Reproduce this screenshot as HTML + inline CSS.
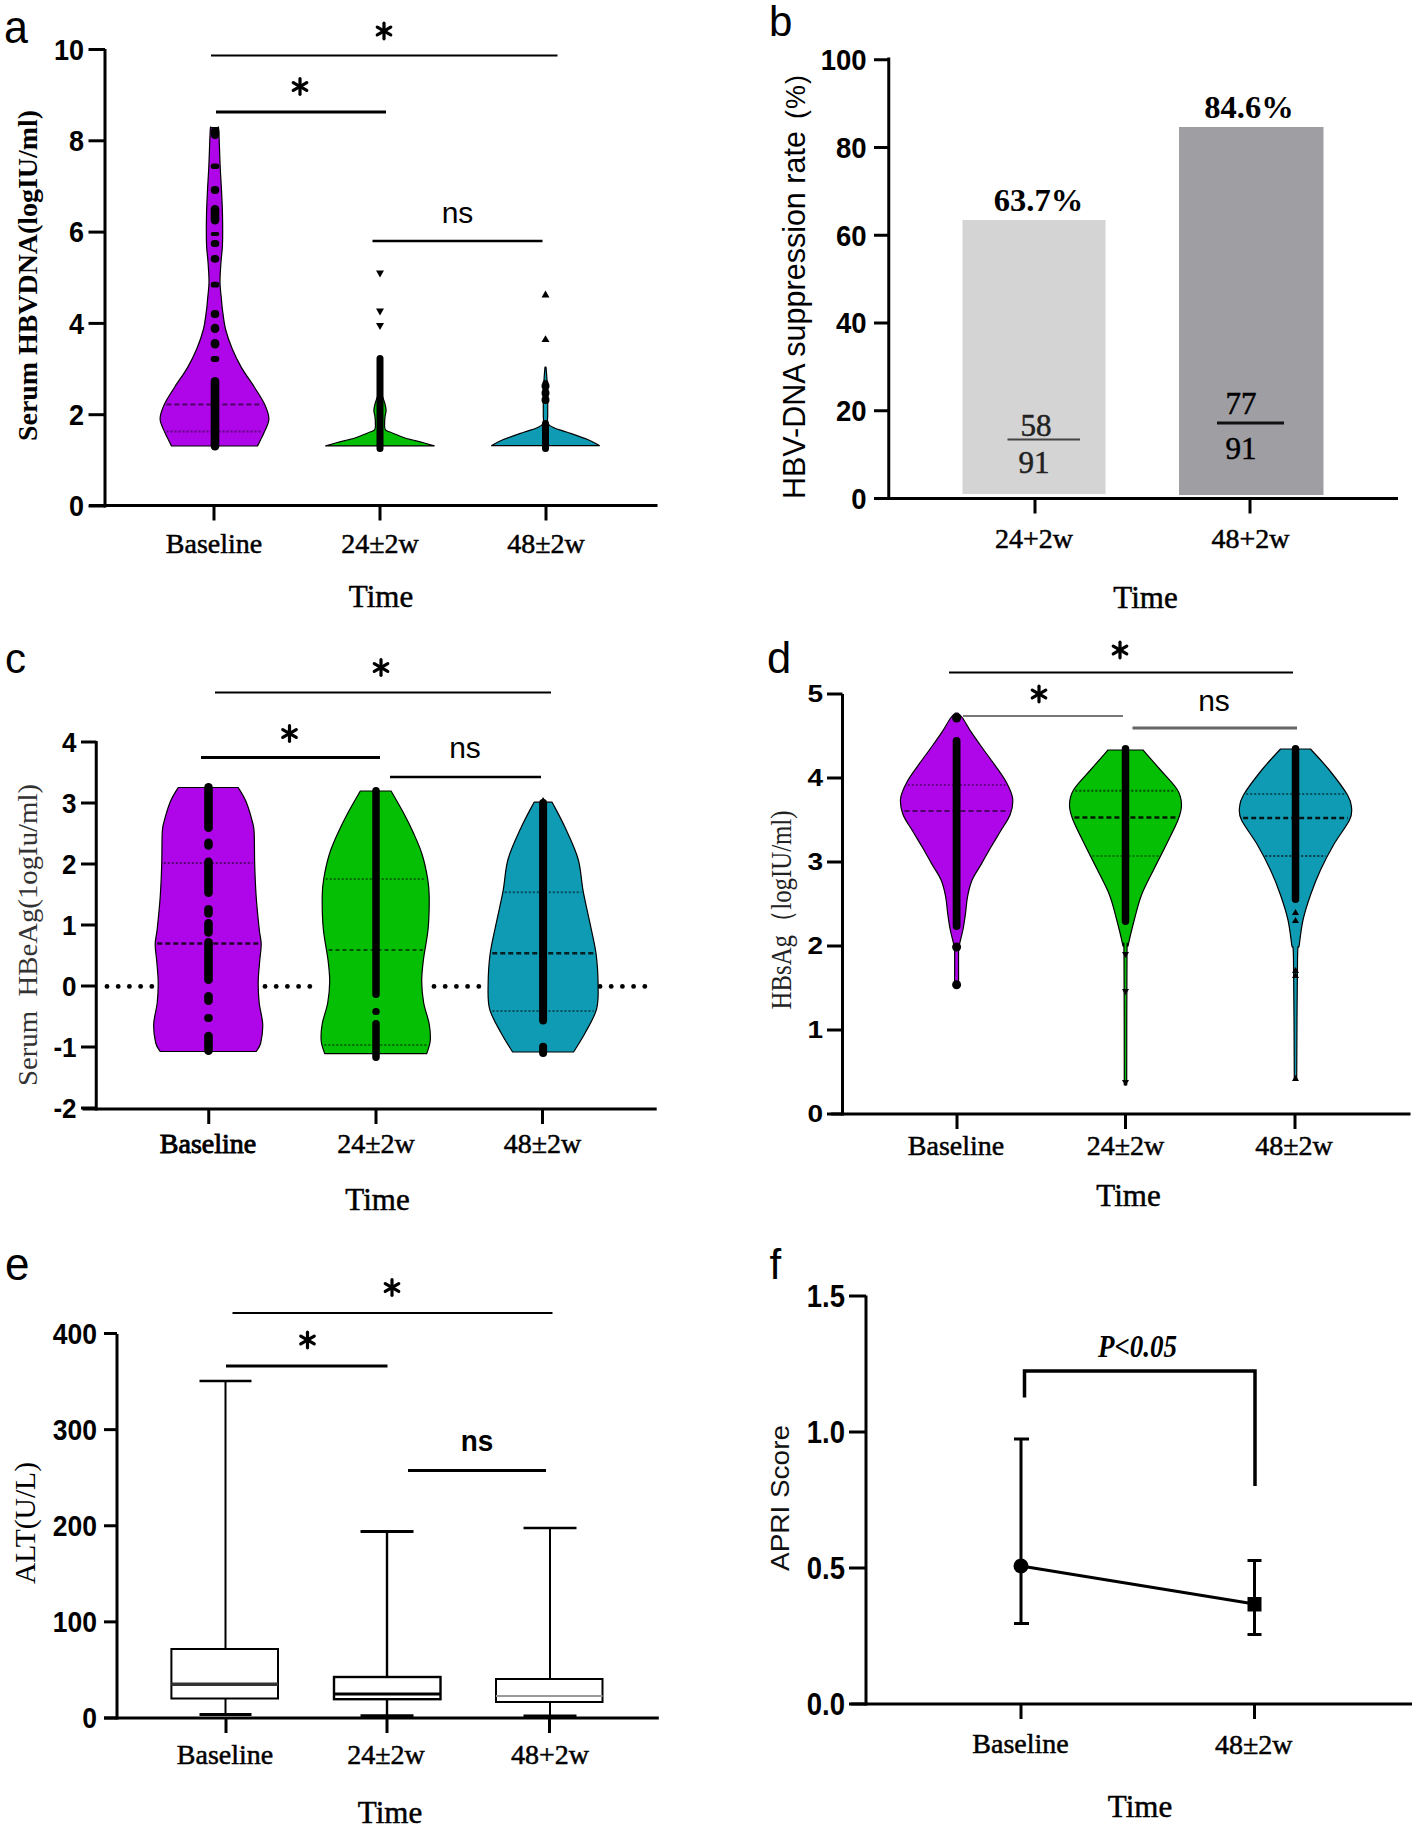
<!DOCTYPE html>
<html><head><meta charset="utf-8"><style>
html,body{margin:0;padding:0;background:#fff;width:1417px;height:1833px;overflow:hidden}
svg{display:block}
</style></head><body>
<svg width="1417" height="1833" viewBox="0 0 1417 1833">
<rect width="1417" height="1833" fill="#fff"/>
<text x="0" y="0" transform="translate(4.00,42.50) scale(1,1.08)" font-family='"Liberation Sans", sans-serif' font-size="43" font-weight="normal" font-style="normal" text-anchor="start" fill="#000" >a</text>
<line x1="105.00" y1="49.00" x2="105.00" y2="507.50" stroke="#000" stroke-width="3" />
<line x1="88.50" y1="506.00" x2="105.00" y2="506.00" stroke="#000" stroke-width="3" />
<text x="0" y="0" transform="translate(84.00,516.25) scale(1,1.06)" font-family='"Liberation Sans", sans-serif' font-size="27" font-weight="bold" font-style="normal" text-anchor="end" fill="#000" >0</text>
<line x1="88.50" y1="414.70" x2="105.00" y2="414.70" stroke="#000" stroke-width="3" />
<text x="0" y="0" transform="translate(84.00,424.95) scale(1,1.06)" font-family='"Liberation Sans", sans-serif' font-size="27" font-weight="bold" font-style="normal" text-anchor="end" fill="#000" >2</text>
<line x1="88.50" y1="323.40" x2="105.00" y2="323.40" stroke="#000" stroke-width="3" />
<text x="0" y="0" transform="translate(84.00,333.65) scale(1,1.06)" font-family='"Liberation Sans", sans-serif' font-size="27" font-weight="bold" font-style="normal" text-anchor="end" fill="#000" >4</text>
<line x1="88.50" y1="232.10" x2="105.00" y2="232.10" stroke="#000" stroke-width="3" />
<text x="0" y="0" transform="translate(84.00,242.35) scale(1,1.06)" font-family='"Liberation Sans", sans-serif' font-size="27" font-weight="bold" font-style="normal" text-anchor="end" fill="#000" >6</text>
<line x1="88.50" y1="140.80" x2="105.00" y2="140.80" stroke="#000" stroke-width="3" />
<text x="0" y="0" transform="translate(84.00,151.05) scale(1,1.06)" font-family='"Liberation Sans", sans-serif' font-size="27" font-weight="bold" font-style="normal" text-anchor="end" fill="#000" >8</text>
<line x1="88.50" y1="49.50" x2="105.00" y2="49.50" stroke="#000" stroke-width="3" />
<text x="0" y="0" transform="translate(84.00,59.75) scale(1,1.06)" font-family='"Liberation Sans", sans-serif' font-size="27" font-weight="bold" font-style="normal" text-anchor="end" fill="#000" >10</text>
<line x1="89.00" y1="505.50" x2="657.50" y2="505.50" stroke="#000" stroke-width="3" />
<line x1="214.00" y1="505.50" x2="214.00" y2="520.50" stroke="#000" stroke-width="3" />
<line x1="380.00" y1="505.50" x2="380.00" y2="520.50" stroke="#000" stroke-width="3" />
<line x1="546.00" y1="505.50" x2="546.00" y2="520.50" stroke="#000" stroke-width="3" />
<text x="214.00" y="552.50" font-family='"Liberation Serif", serif' font-size="28" font-weight="normal" font-style="normal" text-anchor="middle" fill="#000"  stroke="#000" stroke-width="0.5">Baseline</text>
<text x="380.00" y="552.50" font-family='"Liberation Serif", serif' font-size="28" font-weight="normal" font-style="normal" text-anchor="middle" fill="#000"  stroke="#000" stroke-width="0.5">24±2w</text>
<text x="546.00" y="552.50" font-family='"Liberation Serif", serif' font-size="28" font-weight="normal" font-style="normal" text-anchor="middle" fill="#000"  stroke="#000" stroke-width="0.5">48±2w</text>
<text x="381.00" y="607.00" font-family='"Liberation Serif", serif' font-size="31" font-weight="normal" font-style="normal" text-anchor="middle" fill="#000"  stroke="#000" stroke-width="0.5">Time</text>
<text x="0" y="0" transform="translate(37.00,441.00) rotate(-90)" font-family='"Liberation Serif", serif' font-size="28" font-weight="bold" text-anchor="start" fill="#000" textLength="331" lengthAdjust="spacingAndGlyphs">Serum HBVDNA(logIU/ml)</text>
<path d="M 218.00,127.50 C 218.13,128.08 218.43,124.42 218.80,131.00 C 219.17,137.58 219.75,157.17 220.20,167.00 C 220.65,176.83 221.12,182.00 221.50,190.00 C 221.88,198.00 222.33,206.00 222.50,215.00 C 222.67,224.00 222.75,236.17 222.50,244.00 C 222.25,251.83 221.42,255.67 221.00,262.00 C 220.58,268.33 219.92,275.67 220.00,282.00 C 220.08,288.33 221.08,295.33 221.50,300.00 C 221.92,304.67 221.83,305.17 222.50,310.00 C 223.17,314.83 223.90,322.58 225.50,329.00 C 227.10,335.42 229.43,342.07 232.10,348.50 C 234.77,354.93 237.83,361.23 241.50,367.60 C 245.17,373.97 250.27,380.63 254.10,386.70 C 257.93,392.77 262.03,398.62 264.50,404.00 C 266.97,409.38 268.97,414.25 268.90,419.00 C 268.83,423.75 265.50,429.00 264.10,432.50 C 262.70,436.00 261.60,437.75 260.50,440.00 C 259.40,442.25 258.00,445.00 257.50,446.00 L 171.50,446.00 C 171.00,445.00 169.60,442.25 168.50,440.00 C 167.40,437.75 166.30,436.00 164.90,432.50 C 163.50,429.00 160.17,423.75 160.10,419.00 C 160.03,414.25 162.03,409.38 164.50,404.00 C 166.97,398.62 171.07,392.77 174.90,386.70 C 178.73,380.63 183.83,373.97 187.50,367.60 C 191.17,361.23 194.23,354.93 196.90,348.50 C 199.57,342.07 201.90,335.42 203.50,329.00 C 205.10,322.58 205.83,314.83 206.50,310.00 C 207.17,305.17 207.08,304.67 207.50,300.00 C 207.92,295.33 208.92,288.33 209.00,282.00 C 209.08,275.67 208.42,268.33 208.00,262.00 C 207.58,255.67 206.75,251.83 206.50,244.00 C 206.25,236.17 206.33,224.00 206.50,215.00 C 206.67,206.00 207.12,198.00 207.50,190.00 C 207.88,182.00 208.35,176.83 208.80,167.00 C 209.25,157.17 209.83,137.58 210.20,131.00 C 210.57,124.42 210.87,128.08 211.00,127.50 Z" fill="#ae06e8" stroke="#000" stroke-width="1.2" stroke-linejoin="round"/>
<line x1="166.35" y1="404.50" x2="262.65" y2="404.50" stroke="#000" stroke-width="2" stroke-dasharray="5,3" opacity="0.55"/>
<line x1="166.54" y1="431.50" x2="262.46" y2="431.50" stroke="#000" stroke-width="2" stroke-dasharray="2,2" opacity="0.45"/>
<rect x="210.70" y="127.00" width="8.6" height="12.00" fill="#000" rx="4.30"/>
<rect x="210.70" y="163.40" width="8.6" height="5.60" fill="#000" rx="2.80"/>
<rect x="210.70" y="186.00" width="8.6" height="8.00" fill="#000" rx="4.00"/>
<rect x="210.70" y="205.00" width="8.6" height="19.50" fill="#000" rx="4.30"/>
<rect x="210.70" y="232.00" width="8.6" height="4.00" fill="#000" rx="2.00"/>
<rect x="210.70" y="240.00" width="8.6" height="7.00" fill="#000" rx="3.50"/>
<rect x="210.70" y="255.00" width="8.6" height="7.70" fill="#000" rx="3.85"/>
<rect x="210.70" y="281.80" width="8.6" height="5.70" fill="#000" rx="2.85"/>
<rect x="210.70" y="310.00" width="8.6" height="8.00" fill="#000" rx="4.00"/>
<rect x="210.70" y="323.70" width="8.6" height="9.30" fill="#000" rx="4.30"/>
<rect x="210.70" y="339.00" width="8.6" height="9.50" fill="#000" rx="4.30"/>
<rect x="210.70" y="356.00" width="8.6" height="6.00" fill="#000" rx="3.00"/>
<rect x="210.70" y="377.00" width="8.6" height="73.60" fill="#000" rx="4.30"/>
<path d="M 381.00,392.00 C 381.33,393.00 382.33,396.00 383.00,398.00 C 383.67,400.00 384.48,401.92 385.00,404.00 C 385.52,406.08 386.10,408.33 386.10,410.50 C 386.10,412.67 385.25,414.75 385.00,417.00 C 384.75,419.25 384.52,421.87 384.60,424.00 C 384.68,426.13 384.10,428.27 385.50,429.80 C 386.90,431.33 389.62,431.78 393.00,433.20 C 396.38,434.62 400.85,436.75 405.80,438.30 C 410.75,439.85 417.95,441.23 422.70,442.50 C 427.45,443.77 432.37,445.33 434.30,445.90 L 325.70,445.90 C 327.63,445.33 332.55,443.77 337.30,442.50 C 342.05,441.23 349.25,439.85 354.20,438.30 C 359.15,436.75 363.62,434.62 367.00,433.20 C 370.38,431.78 373.10,431.33 374.50,429.80 C 375.90,428.27 375.32,426.13 375.40,424.00 C 375.48,421.87 375.25,419.25 375.00,417.00 C 374.75,414.75 373.90,412.67 373.90,410.50 C 373.90,408.33 374.48,406.08 375.00,404.00 C 375.52,401.92 376.33,400.00 377.00,398.00 C 377.67,396.00 378.67,393.00 379.00,392.00 Z" fill="#04bf04" stroke="#000" stroke-width="1.2" stroke-linejoin="round"/>
<rect x="376.50" y="355.00" width="7" height="97.00" fill="#000" rx="3.5"/>
<path d="M 376.00,270.60 L 384.00,270.60 L 380.00,277.40 Z" fill="#000"/>
<path d="M 376.00,308.60 L 384.00,308.60 L 380.00,315.40 Z" fill="#000"/>
<path d="M 376.00,323.10 L 384.00,323.10 L 380.00,329.90 Z" fill="#000"/>
<path d="M 546.00,367.00 C 546.17,369.17 546.72,374.50 547.00,380.00 C 547.28,385.50 547.58,394.17 547.70,400.00 C 547.82,405.83 547.65,411.05 547.70,415.00 C 547.75,418.95 546.88,421.53 548.00,423.70 C 549.12,425.87 551.20,426.58 554.40,428.00 C 557.60,429.42 561.57,430.23 567.20,432.20 C 572.83,434.17 582.82,437.55 588.20,439.80 C 593.58,442.05 597.62,444.72 599.50,445.70 L 491.50,445.70 C 493.38,444.72 497.42,442.05 502.80,439.80 C 508.18,437.55 518.17,434.17 523.80,432.20 C 529.43,430.23 533.40,429.42 536.60,428.00 C 539.80,426.58 541.88,425.87 543.00,423.70 C 544.12,421.53 543.25,418.95 543.30,415.00 C 543.35,411.05 543.18,405.83 543.30,400.00 C 543.42,394.17 543.72,385.50 544.00,380.00 C 544.28,374.50 544.83,369.17 545.00,367.00 Z" fill="#109bb4" stroke="#000" stroke-width="1.2" stroke-linejoin="round"/>
<rect x="542.50" y="380.00" width="6" height="22.00" fill="#000" rx="3.0"/>
<circle cx="545.50" cy="386.00" r="4" fill="#000"/>
<circle cx="545.50" cy="393.00" r="4" fill="#000"/>
<circle cx="545.50" cy="400.00" r="4" fill="#000"/>
<rect x="542.00" y="420.00" width="7" height="32.00" fill="#000" rx="3.5"/>
<path d="M 541.50,297.40 L 549.50,297.40 L 545.50,290.60 Z" fill="#000"/>
<path d="M 541.50,342.10 L 549.50,342.10 L 545.50,335.30 Z" fill="#000"/>
<line x1="211.00" y1="55.50" x2="557.50" y2="55.50" stroke="#000" stroke-width="2" />
<line x1="384.00" y1="38.80" x2="384.00" y2="23.20" stroke="#000" stroke-width="3.2" stroke-linecap="round"/>
<line x1="377.25" y1="34.90" x2="390.75" y2="27.10" stroke="#000" stroke-width="3.2" stroke-linecap="round"/>
<line x1="390.75" y1="34.90" x2="377.25" y2="27.10" stroke="#000" stroke-width="3.2" stroke-linecap="round"/>
<line x1="216.00" y1="112.00" x2="386.00" y2="112.00" stroke="#000" stroke-width="3" />
<line x1="300.00" y1="94.30" x2="300.00" y2="78.70" stroke="#000" stroke-width="3.2" stroke-linecap="round"/>
<line x1="293.25" y1="90.40" x2="306.75" y2="82.60" stroke="#000" stroke-width="3.2" stroke-linecap="round"/>
<line x1="306.75" y1="90.40" x2="293.25" y2="82.60" stroke="#000" stroke-width="3.2" stroke-linecap="round"/>
<line x1="372.50" y1="241.00" x2="542.50" y2="241.00" stroke="#000" stroke-width="2.5" />
<text x="457.50" y="222.50" font-family='"Liberation Sans", sans-serif' font-size="30" font-weight="normal" font-style="normal" text-anchor="middle" fill="#000" >ns</text>
<text x="769.00" y="36.00" font-family='"Liberation Sans", sans-serif' font-size="42" font-weight="normal" font-style="normal" text-anchor="start" fill="#000" >b</text>
<line x1="888.75" y1="57.50" x2="888.75" y2="500.00" stroke="#000" stroke-width="3" />
<line x1="874.00" y1="498.50" x2="888.75" y2="498.50" stroke="#000" stroke-width="3" />
<text x="0" y="0" transform="translate(866.50,508.84) scale(1,1.05)" font-family='"Liberation Sans", sans-serif' font-size="27.5" font-weight="bold" font-style="normal" text-anchor="end" fill="#000" >0</text>
<line x1="874.00" y1="410.75" x2="888.75" y2="410.75" stroke="#000" stroke-width="3" />
<text x="0" y="0" transform="translate(866.50,421.09) scale(1,1.05)" font-family='"Liberation Sans", sans-serif' font-size="27.5" font-weight="bold" font-style="normal" text-anchor="end" fill="#000" >20</text>
<line x1="874.00" y1="323.00" x2="888.75" y2="323.00" stroke="#000" stroke-width="3" />
<text x="0" y="0" transform="translate(866.50,333.34) scale(1,1.05)" font-family='"Liberation Sans", sans-serif' font-size="27.5" font-weight="bold" font-style="normal" text-anchor="end" fill="#000" >40</text>
<line x1="874.00" y1="235.25" x2="888.75" y2="235.25" stroke="#000" stroke-width="3" />
<text x="0" y="0" transform="translate(866.50,245.59) scale(1,1.05)" font-family='"Liberation Sans", sans-serif' font-size="27.5" font-weight="bold" font-style="normal" text-anchor="end" fill="#000" >60</text>
<line x1="874.00" y1="147.50" x2="888.75" y2="147.50" stroke="#000" stroke-width="3" />
<text x="0" y="0" transform="translate(866.50,157.84) scale(1,1.05)" font-family='"Liberation Sans", sans-serif' font-size="27.5" font-weight="bold" font-style="normal" text-anchor="end" fill="#000" >80</text>
<line x1="874.00" y1="59.75" x2="888.75" y2="59.75" stroke="#000" stroke-width="3" />
<text x="0" y="0" transform="translate(866.50,70.09) scale(1,1.05)" font-family='"Liberation Sans", sans-serif' font-size="27.5" font-weight="bold" font-style="normal" text-anchor="end" fill="#000" >100</text>
<rect x="962.5" y="220" width="143" height="274" fill="#d4d4d4"/>
<rect x="1179" y="127" width="144.5" height="368" fill="#9f9ea3"/>
<line x1="874.00" y1="498.50" x2="1398.00" y2="498.50" stroke="#000" stroke-width="3" />
<line x1="1035.00" y1="498.50" x2="1035.00" y2="513.50" stroke="#000" stroke-width="3" />
<line x1="1250.00" y1="498.50" x2="1250.00" y2="513.50" stroke="#000" stroke-width="3" />
<text x="1034.00" y="547.50" font-family='"Liberation Serif", serif' font-size="28" font-weight="normal" font-style="normal" text-anchor="middle" fill="#000"  stroke="#000" stroke-width="0.5">24+2w</text>
<text x="1250.50" y="547.50" font-family='"Liberation Serif", serif' font-size="28" font-weight="normal" font-style="normal" text-anchor="middle" fill="#000"  stroke="#000" stroke-width="0.5">48+2w</text>
<text x="1145.50" y="607.50" font-family='"Liberation Serif", serif' font-size="31" font-weight="normal" font-style="normal" text-anchor="middle" fill="#000"  stroke="#000" stroke-width="0.5">Time</text>
<text x="1038.50" y="211.20" font-family='"Liberation Serif", serif' font-size="32.5" font-weight="bold" font-style="normal" text-anchor="middle" fill="#000" >63.7%</text>
<text x="1249.00" y="117.80" font-family='"Liberation Serif", serif' font-size="32.5" font-weight="bold" font-style="normal" text-anchor="middle" fill="#000" >84.6%</text>
<text x="1036.00" y="436.00" font-family='"Liberation Serif", serif' font-size="31" font-weight="normal" font-style="normal" text-anchor="middle" fill="#222"  stroke="#222" stroke-width="0.5">58</text>
<line x1="1007.50" y1="439.50" x2="1080.00" y2="439.50" stroke="#444" stroke-width="2" />
<text x="1034.00" y="472.50" font-family='"Liberation Serif", serif' font-size="31" font-weight="normal" font-style="normal" text-anchor="middle" fill="#222"  stroke="#222" stroke-width="0.5">91</text>
<text x="1241.00" y="414.00" font-family='"Liberation Serif", serif' font-size="31" font-weight="normal" font-style="normal" text-anchor="middle" fill="#000"  stroke="#000" stroke-width="0.5">77</text>
<line x1="1217.00" y1="423.00" x2="1284.00" y2="423.00" stroke="#111" stroke-width="3" />
<text x="1241.00" y="459.00" font-family='"Liberation Serif", serif' font-size="31" font-weight="normal" font-style="normal" text-anchor="middle" fill="#000"  stroke="#000" stroke-width="0.5">91</text>
<text x="0" y="0" transform="translate(805.00,499.00) rotate(-90)" font-family='"Liberation Sans", sans-serif' font-size="30.5" font-weight="normal" text-anchor="start" fill="#000" >HBV-DNA suppression rate</text>
<text x="0" y="0" transform="translate(805.00,119.00) rotate(-90)" font-family='"Liberation Sans", sans-serif' font-size="27" font-weight="normal" text-anchor="start" fill="#000" textLength="44" lengthAdjust="spacing">(%)</text>
<text x="5.00" y="672.50" font-family='"Liberation Sans", sans-serif' font-size="42" font-weight="normal" font-style="normal" text-anchor="start" fill="#000" >c</text>
<line x1="96.25" y1="741.00" x2="96.25" y2="1110.50" stroke="#000" stroke-width="3" />
<line x1="81.00" y1="1108.00" x2="96.25" y2="1108.00" stroke="#000" stroke-width="3" />
<text x="0" y="0" transform="translate(76.50,1117.77) scale(1,1.05)" font-family='"Liberation Sans", sans-serif' font-size="26" font-weight="bold" font-style="normal" text-anchor="end" fill="#000" >-2</text>
<line x1="81.00" y1="1047.00" x2="96.25" y2="1047.00" stroke="#000" stroke-width="3" />
<text x="0" y="0" transform="translate(76.50,1056.77) scale(1,1.05)" font-family='"Liberation Sans", sans-serif' font-size="26" font-weight="bold" font-style="normal" text-anchor="end" fill="#000" >-1</text>
<line x1="81.00" y1="986.00" x2="96.25" y2="986.00" stroke="#000" stroke-width="3" />
<text x="0" y="0" transform="translate(76.50,995.77) scale(1,1.05)" font-family='"Liberation Sans", sans-serif' font-size="26" font-weight="bold" font-style="normal" text-anchor="end" fill="#000" >0</text>
<line x1="81.00" y1="925.00" x2="96.25" y2="925.00" stroke="#000" stroke-width="3" />
<text x="0" y="0" transform="translate(76.50,934.77) scale(1,1.05)" font-family='"Liberation Sans", sans-serif' font-size="26" font-weight="bold" font-style="normal" text-anchor="end" fill="#000" >1</text>
<line x1="81.00" y1="864.00" x2="96.25" y2="864.00" stroke="#000" stroke-width="3" />
<text x="0" y="0" transform="translate(76.50,873.77) scale(1,1.05)" font-family='"Liberation Sans", sans-serif' font-size="26" font-weight="bold" font-style="normal" text-anchor="end" fill="#000" >2</text>
<line x1="81.00" y1="803.00" x2="96.25" y2="803.00" stroke="#000" stroke-width="3" />
<text x="0" y="0" transform="translate(76.50,812.77) scale(1,1.05)" font-family='"Liberation Sans", sans-serif' font-size="26" font-weight="bold" font-style="normal" text-anchor="end" fill="#000" >3</text>
<line x1="81.00" y1="742.00" x2="96.25" y2="742.00" stroke="#000" stroke-width="3" />
<text x="0" y="0" transform="translate(76.50,751.77) scale(1,1.05)" font-family='"Liberation Sans", sans-serif' font-size="26" font-weight="bold" font-style="normal" text-anchor="end" fill="#000" >4</text>
<line x1="82.50" y1="1109.00" x2="656.70" y2="1109.00" stroke="#000" stroke-width="3" />
<line x1="208.75" y1="1109.00" x2="208.75" y2="1124.00" stroke="#000" stroke-width="3" />
<line x1="376.00" y1="1109.00" x2="376.00" y2="1124.00" stroke="#000" stroke-width="3" />
<line x1="542.50" y1="1109.00" x2="542.50" y2="1124.00" stroke="#000" stroke-width="3" />
<circle cx="107.00" cy="986.4" r="2.4" fill="#000"/>
<circle cx="118.20" cy="986.4" r="2.4" fill="#000"/>
<circle cx="129.40" cy="986.4" r="2.4" fill="#000"/>
<circle cx="140.60" cy="986.4" r="2.4" fill="#000"/>
<circle cx="151.80" cy="986.4" r="2.4" fill="#000"/>
<circle cx="265.00" cy="986.4" r="2.4" fill="#000"/>
<circle cx="276.20" cy="986.4" r="2.4" fill="#000"/>
<circle cx="287.40" cy="986.4" r="2.4" fill="#000"/>
<circle cx="298.60" cy="986.4" r="2.4" fill="#000"/>
<circle cx="309.80" cy="986.4" r="2.4" fill="#000"/>
<circle cx="434.00" cy="986.4" r="2.4" fill="#000"/>
<circle cx="445.20" cy="986.4" r="2.4" fill="#000"/>
<circle cx="456.40" cy="986.4" r="2.4" fill="#000"/>
<circle cx="467.60" cy="986.4" r="2.4" fill="#000"/>
<circle cx="478.80" cy="986.4" r="2.4" fill="#000"/>
<circle cx="600.00" cy="986.4" r="2.4" fill="#000"/>
<circle cx="611.20" cy="986.4" r="2.4" fill="#000"/>
<circle cx="622.40" cy="986.4" r="2.4" fill="#000"/>
<circle cx="633.60" cy="986.4" r="2.4" fill="#000"/>
<circle cx="644.80" cy="986.4" r="2.4" fill="#000"/>
<path d="M 238.20,787.50 C 239.53,789.92 243.78,796.08 246.20,802.00 C 248.62,807.92 251.37,817.75 252.70,823.00 C 254.03,828.25 253.87,826.50 254.20,833.50 C 254.53,840.50 254.37,854.42 254.70,865.00 C 255.03,875.58 255.45,886.33 256.20,897.00 C 256.95,907.67 258.37,921.17 259.20,929.00 C 260.03,936.83 261.12,938.67 261.20,944.00 C 261.28,949.33 260.20,954.67 259.70,961.00 C 259.20,967.33 258.28,975.00 258.20,982.00 C 258.12,989.00 258.45,996.00 259.20,1003.00 C 259.95,1010.00 262.45,1017.33 262.70,1024.00 C 262.95,1030.67 261.78,1038.42 260.70,1043.00 C 259.62,1047.58 256.95,1050.08 256.20,1051.50 L 160.20,1051.50 C 159.45,1050.08 156.78,1047.58 155.70,1043.00 C 154.62,1038.42 153.45,1030.67 153.70,1024.00 C 153.95,1017.33 156.45,1010.00 157.20,1003.00 C 157.95,996.00 158.28,989.00 158.20,982.00 C 158.12,975.00 157.20,967.33 156.70,961.00 C 156.20,954.67 155.12,949.33 155.20,944.00 C 155.28,938.67 156.37,936.83 157.20,929.00 C 158.03,921.17 159.45,907.67 160.20,897.00 C 160.95,886.33 161.37,875.58 161.70,865.00 C 162.03,854.42 161.87,840.50 162.20,833.50 C 162.53,826.50 162.37,828.25 163.70,823.00 C 165.03,817.75 167.78,807.92 170.20,802.00 C 172.62,796.08 176.87,789.92 178.20,787.50 Z" fill="#ae06e8" stroke="#000" stroke-width="1.2" stroke-linejoin="round"/>
<line x1="163.73" y1="863.00" x2="252.67" y2="863.00" stroke="#000" stroke-width="2" stroke-dasharray="2,2" opacity="0.5"/>
<line x1="157.25" y1="943.60" x2="259.15" y2="943.60" stroke="#000" stroke-width="2.5" stroke-dasharray="5,3" opacity="0.8"/>
<rect x="204.20" y="783.00" width="8.6" height="49.00" fill="#000" rx="4.30"/>
<rect x="204.20" y="838.60" width="8.6" height="11.10" fill="#000" rx="4.30"/>
<rect x="204.20" y="857.60" width="8.6" height="39.40" fill="#000" rx="4.30"/>
<rect x="204.20" y="905.00" width="8.6" height="12.70" fill="#000" rx="4.30"/>
<rect x="204.20" y="919.00" width="8.6" height="17.70" fill="#000" rx="4.30"/>
<rect x="204.20" y="938.00" width="8.6" height="46.00" fill="#000" rx="4.30"/>
<rect x="204.20" y="992.00" width="8.6" height="13.00" fill="#000" rx="4.30"/>
<rect x="204.20" y="1014.00" width="8.6" height="8.00" fill="#000" rx="4.00"/>
<rect x="204.20" y="1031.70" width="8.6" height="23.30" fill="#000" rx="4.30"/>
<path d="M 391.10,791.00 C 393.12,794.55 399.43,805.22 403.20,812.30 C 406.97,819.38 410.53,826.43 413.70,833.50 C 416.87,840.57 419.87,847.12 422.20,854.70 C 424.53,862.28 426.53,871.95 427.70,879.00 C 428.87,886.05 429.13,888.70 429.20,897.00 C 429.27,905.30 429.08,918.20 428.10,928.80 C 427.12,939.40 424.37,951.78 423.30,960.60 C 422.23,969.42 421.63,974.63 421.70,981.70 C 421.77,988.77 422.45,995.95 423.70,1003.00 C 424.95,1010.05 428.12,1017.67 429.20,1024.00 C 430.28,1030.33 430.62,1036.05 430.20,1041.00 C 429.78,1045.95 427.28,1051.58 426.70,1053.70 L 324.70,1053.70 C 324.12,1051.58 321.62,1045.95 321.20,1041.00 C 320.78,1036.05 321.12,1030.33 322.20,1024.00 C 323.28,1017.67 326.45,1010.05 327.70,1003.00 C 328.95,995.95 329.63,988.77 329.70,981.70 C 329.77,974.63 329.17,969.42 328.10,960.60 C 327.03,951.78 324.28,939.40 323.30,928.80 C 322.32,918.20 322.13,905.30 322.20,897.00 C 322.27,888.70 322.53,886.05 323.70,879.00 C 324.87,871.95 326.87,862.28 329.20,854.70 C 331.53,847.12 334.53,840.57 337.70,833.50 C 340.87,826.43 344.43,819.38 348.20,812.30 C 351.97,805.22 358.28,794.55 360.30,791.00 Z" fill="#04bf04" stroke="#000" stroke-width="1.2" stroke-linejoin="round"/>
<line x1="325.70" y1="879.00" x2="425.70" y2="879.00" stroke="#000" stroke-width="2" stroke-dasharray="2,2" opacity="0.45"/>
<line x1="328.50" y1="950.00" x2="422.90" y2="950.00" stroke="#000" stroke-width="2" stroke-dasharray="4,3" opacity="0.55"/>
<line x1="324.30" y1="1045.00" x2="427.10" y2="1045.00" stroke="#000" stroke-width="2" stroke-dasharray="2,2" opacity="0.45"/>
<rect x="372.25" y="787.00" width="7.5" height="211.00" fill="#000" rx="3.75"/>
<rect x="372.25" y="1008.00" width="7.5" height="7.00" fill="#000" rx="3.50"/>
<rect x="372.25" y="1020.00" width="7.5" height="41.00" fill="#000" rx="3.75"/>
<path d="M 552.10,802.20 C 554.27,806.42 560.77,818.03 565.10,827.50 C 569.43,836.97 575.10,848.45 578.10,859.00 C 581.10,869.55 581.15,880.23 583.10,890.80 C 585.05,901.37 587.63,911.87 589.80,922.40 C 591.97,932.93 594.72,943.45 596.10,954.00 C 597.48,964.55 598.03,976.47 598.10,985.70 C 598.17,994.93 598.67,1001.52 596.50,1009.40 C 594.33,1017.28 588.92,1025.90 585.10,1033.00 C 581.28,1040.10 575.52,1048.83 573.60,1052.00 L 512.60,1052.00 C 510.68,1048.83 504.92,1040.10 501.10,1033.00 C 497.28,1025.90 491.87,1017.28 489.70,1009.40 C 487.53,1001.52 488.03,994.93 488.10,985.70 C 488.17,976.47 488.72,964.55 490.10,954.00 C 491.48,943.45 494.23,932.93 496.40,922.40 C 498.57,911.87 501.15,901.37 503.10,890.80 C 505.05,880.23 505.10,869.55 508.10,859.00 C 511.10,848.45 516.77,836.97 521.10,827.50 C 525.43,818.03 531.93,806.42 534.10,802.20 Z" fill="#109bb4" stroke="#000" stroke-width="1.2" stroke-linejoin="round"/>
<line x1="504.78" y1="892.30" x2="581.42" y2="892.30" stroke="#000" stroke-width="2" stroke-dasharray="2,2" opacity="0.5"/>
<line x1="492.24" y1="953.30" x2="593.96" y2="953.30" stroke="#000" stroke-width="2.5" stroke-dasharray="5,3" opacity="0.8"/>
<line x1="492.47" y1="1011.00" x2="593.73" y2="1011.00" stroke="#000" stroke-width="2" stroke-dasharray="2,2" opacity="0.5"/>
<rect x="539.10" y="799.00" width="8" height="225.50" fill="#000" rx="4.00"/>
<rect x="539.10" y="1042.70" width="8" height="14.30" fill="#000" rx="4.00"/>
<path d="M 539.60,802.98 L 546.60,802.98 L 543.10,797.02 Z" fill="#000"/>
<text x="208.00" y="1152.50" font-family='"Liberation Serif", serif' font-size="28" font-weight="normal" font-style="normal" text-anchor="middle" fill="#000"  stroke="#000" stroke-width="0.9">Baseline</text>
<text x="376.00" y="1152.50" font-family='"Liberation Serif", serif' font-size="28" font-weight="normal" font-style="normal" text-anchor="middle" fill="#000"  stroke="#000" stroke-width="0.5">24±2w</text>
<text x="542.50" y="1152.50" font-family='"Liberation Serif", serif' font-size="28" font-weight="normal" font-style="normal" text-anchor="middle" fill="#000"  stroke="#000" stroke-width="0.5">48±2w</text>
<text x="377.50" y="1210.00" font-family='"Liberation Serif", serif' font-size="31" font-weight="normal" font-style="normal" text-anchor="middle" fill="#000"  stroke="#000" stroke-width="0.5">Time</text>
<text x="0" y="0" transform="translate(36.70,1086.00) rotate(-90)" font-family='"Liberation Serif", serif' font-size="27" font-weight="normal" text-anchor="start" fill="#333" textLength="302" lengthAdjust="spacingAndGlyphs">Serum&#160; HBeAg(1ogIu/ml)</text>
<line x1="215.00" y1="692.50" x2="551.00" y2="692.50" stroke="#000" stroke-width="2" />
<line x1="381.00" y1="675.30" x2="381.00" y2="659.70" stroke="#000" stroke-width="3.2" stroke-linecap="round"/>
<line x1="374.25" y1="671.40" x2="387.75" y2="663.60" stroke="#000" stroke-width="3.2" stroke-linecap="round"/>
<line x1="387.75" y1="671.40" x2="374.25" y2="663.60" stroke="#000" stroke-width="3.2" stroke-linecap="round"/>
<line x1="201.00" y1="757.50" x2="380.00" y2="757.50" stroke="#000" stroke-width="3" />
<line x1="289.50" y1="741.30" x2="289.50" y2="725.70" stroke="#000" stroke-width="3.2" stroke-linecap="round"/>
<line x1="282.75" y1="737.40" x2="296.25" y2="729.60" stroke="#000" stroke-width="3.2" stroke-linecap="round"/>
<line x1="296.25" y1="737.40" x2="282.75" y2="729.60" stroke="#000" stroke-width="3.2" stroke-linecap="round"/>
<line x1="390.00" y1="777.00" x2="541.00" y2="777.00" stroke="#000" stroke-width="2.5" />
<text x="465.00" y="757.50" font-family='"Liberation Sans", sans-serif' font-size="30" font-weight="normal" font-style="normal" text-anchor="middle" fill="#000" >ns</text>
<text x="767.00" y="673.00" font-family='"Liberation Sans", sans-serif' font-size="43.5" font-weight="normal" font-style="normal" text-anchor="start" fill="#000" >d</text>
<line x1="842.50" y1="694.00" x2="842.50" y2="1115.50" stroke="#000" stroke-width="3" />
<line x1="827.00" y1="1114.00" x2="842.50" y2="1114.00" stroke="#000" stroke-width="3" />
<text x="0" y="0" transform="translate(823.00,1122.23) scale(1.22,1)" font-family='"Liberation Sans", sans-serif' font-size="23" font-weight="bold" font-style="normal" text-anchor="end" fill="#000" >0</text>
<line x1="827.00" y1="1030.00" x2="842.50" y2="1030.00" stroke="#000" stroke-width="3" />
<text x="0" y="0" transform="translate(823.00,1038.23) scale(1.22,1)" font-family='"Liberation Sans", sans-serif' font-size="23" font-weight="bold" font-style="normal" text-anchor="end" fill="#000" >1</text>
<line x1="827.00" y1="946.00" x2="842.50" y2="946.00" stroke="#000" stroke-width="3" />
<text x="0" y="0" transform="translate(823.00,954.23) scale(1.22,1)" font-family='"Liberation Sans", sans-serif' font-size="23" font-weight="bold" font-style="normal" text-anchor="end" fill="#000" >2</text>
<line x1="827.00" y1="862.00" x2="842.50" y2="862.00" stroke="#000" stroke-width="3" />
<text x="0" y="0" transform="translate(823.00,870.23) scale(1.22,1)" font-family='"Liberation Sans", sans-serif' font-size="23" font-weight="bold" font-style="normal" text-anchor="end" fill="#000" >3</text>
<line x1="827.00" y1="778.00" x2="842.50" y2="778.00" stroke="#000" stroke-width="3" />
<text x="0" y="0" transform="translate(823.00,786.23) scale(1.22,1)" font-family='"Liberation Sans", sans-serif' font-size="23" font-weight="bold" font-style="normal" text-anchor="end" fill="#000" >4</text>
<line x1="827.00" y1="694.00" x2="842.50" y2="694.00" stroke="#000" stroke-width="3" />
<text x="0" y="0" transform="translate(823.00,702.23) scale(1.22,1)" font-family='"Liberation Sans", sans-serif' font-size="23" font-weight="bold" font-style="normal" text-anchor="end" fill="#000" >5</text>
<line x1="831.00" y1="1114.00" x2="1410.50" y2="1114.00" stroke="#000" stroke-width="3" />
<line x1="957.00" y1="1114.00" x2="957.00" y2="1129.00" stroke="#000" stroke-width="3" />
<line x1="1125.50" y1="1114.00" x2="1125.50" y2="1129.00" stroke="#000" stroke-width="3" />
<line x1="1295.00" y1="1114.00" x2="1295.00" y2="1129.00" stroke="#000" stroke-width="3" />
<path d="M 957.60,713.00 C 958.43,713.83 960.27,714.72 962.60,718.00 C 964.93,721.28 968.18,727.53 971.60,732.70 C 975.02,737.87 979.18,743.55 983.10,749.00 C 987.02,754.45 991.27,759.93 995.10,765.40 C 998.93,770.87 1003.18,776.33 1006.10,781.80 C 1009.02,787.27 1011.92,792.75 1012.60,798.20 C 1013.28,803.65 1012.20,809.03 1010.20,814.50 C 1008.20,819.97 1003.80,825.58 1000.60,831.00 C 997.40,836.42 994.17,841.57 991.00,847.00 C 987.83,852.43 984.75,858.10 981.60,863.60 C 978.45,869.10 974.43,874.55 972.10,880.00 C 969.77,885.45 968.68,890.85 967.60,896.30 C 966.52,901.75 966.35,907.25 965.60,912.70 C 964.85,918.15 964.10,923.82 963.10,929.00 C 962.10,934.18 960.35,940.30 959.60,943.80 C 958.85,947.30 958.77,943.30 958.60,950.00 C 958.43,956.70 958.60,978.33 958.60,984.00 L 954.60,984.00 C 954.60,978.33 954.77,956.70 954.60,950.00 C 954.43,943.30 954.35,947.30 953.60,943.80 C 952.85,940.30 951.10,934.18 950.10,929.00 C 949.10,923.82 948.35,918.15 947.60,912.70 C 946.85,907.25 946.68,901.75 945.60,896.30 C 944.52,890.85 943.43,885.45 941.10,880.00 C 938.77,874.55 934.75,869.10 931.60,863.60 C 928.45,858.10 925.37,852.43 922.20,847.00 C 919.03,841.57 915.80,836.42 912.60,831.00 C 909.40,825.58 905.00,819.97 903.00,814.50 C 901.00,809.03 899.92,803.65 900.60,798.20 C 901.28,792.75 904.18,787.27 907.10,781.80 C 910.02,776.33 914.27,770.87 918.10,765.40 C 921.93,759.93 926.18,754.45 930.10,749.00 C 934.02,743.55 938.18,737.87 941.60,732.70 C 945.02,727.53 948.27,721.28 950.60,718.00 C 952.93,714.72 954.77,713.83 955.60,713.00 Z" fill="#ae06e8" stroke="#000" stroke-width="1.2" stroke-linejoin="round"/>
<line x1="907.83" y1="785.00" x2="1005.37" y2="785.00" stroke="#000" stroke-width="2" stroke-dasharray="2,2" opacity="0.4"/>
<line x1="904.48" y1="811.00" x2="1008.72" y2="811.00" stroke="#000" stroke-width="2" stroke-dasharray="5,3" opacity="0.55"/>
<rect x="952.70" y="737.00" width="7.8" height="193.00" fill="#000" rx="3.9"/>
<circle cx="956.60" cy="718.00" r="4.5" fill="#000"/>
<circle cx="956.60" cy="947.00" r="4.5" fill="#000"/>
<circle cx="956.60" cy="984.70" r="4.5" fill="#000"/>
<path d="M 1143.00,750.00 C 1145.92,753.33 1154.75,763.33 1160.50,770.00 C 1166.25,776.67 1174.00,784.17 1177.50,790.00 C 1181.00,795.83 1181.42,800.00 1181.50,805.00 C 1181.58,810.00 1180.57,813.33 1178.00,820.00 C 1175.43,826.67 1170.18,836.67 1166.10,845.00 C 1162.02,853.33 1157.60,861.67 1153.50,870.00 C 1149.40,878.33 1144.71,886.67 1141.50,895.00 C 1138.29,903.33 1136.46,911.67 1134.25,920.00 C 1132.04,928.33 1129.46,939.17 1128.25,945.00 C 1127.04,950.83 1127.26,931.67 1127.00,955.00 C 1126.74,978.33 1126.75,1063.33 1126.70,1085.00 L 1124.30,1085.00 C 1124.25,1063.33 1124.26,978.33 1124.00,955.00 C 1123.74,931.67 1123.96,950.83 1122.75,945.00 C 1121.54,939.17 1118.96,928.33 1116.75,920.00 C 1114.54,911.67 1112.71,903.33 1109.50,895.00 C 1106.29,886.67 1101.60,878.33 1097.50,870.00 C 1093.40,861.67 1088.98,853.33 1084.90,845.00 C 1080.82,836.67 1075.57,826.67 1073.00,820.00 C 1070.43,813.33 1069.42,810.00 1069.50,805.00 C 1069.58,800.00 1070.00,795.83 1073.50,790.00 C 1077.00,784.17 1084.75,776.67 1090.50,770.00 C 1096.25,763.33 1105.08,753.33 1108.00,750.00 Z" fill="#04bf04" stroke="#000" stroke-width="1.2" stroke-linejoin="round"/>
<line x1="1075.30" y1="790.75" x2="1175.70" y2="790.75" stroke="#000" stroke-width="2" stroke-dasharray="2,2" opacity="0.6"/>
<line x1="1074.42" y1="817.50" x2="1176.58" y2="817.50" stroke="#000" stroke-width="2.5" stroke-dasharray="5,3" opacity="0.85"/>
<line x1="1092.44" y1="856.00" x2="1158.56" y2="856.00" stroke="#000" stroke-width="2" stroke-dasharray="2,2" opacity="0.4"/>
<rect x="1121.75" y="745.00" width="7.5" height="180.00" fill="#000" rx="3.75"/>
<path d="M 1122.00,952.02 L 1129.00,952.02 L 1125.50,957.98 Z" fill="#000"/>
<path d="M 1122.00,989.02 L 1129.00,989.02 L 1125.50,994.98 Z" fill="#000"/>
<path d="M 1122.00,1080.03 L 1129.00,1080.03 L 1125.50,1085.97 Z" fill="#000"/>
<path d="M 1310.50,749.00 C 1313.62,752.50 1323.08,762.33 1329.25,770.00 C 1335.42,777.67 1343.79,788.75 1347.50,795.00 C 1351.21,801.25 1351.17,803.33 1351.50,807.50 C 1351.83,811.67 1352.50,813.75 1349.50,820.00 C 1346.50,826.25 1338.33,836.67 1333.50,845.00 C 1328.67,853.33 1324.33,861.67 1320.50,870.00 C 1316.67,878.33 1313.42,886.67 1310.50,895.00 C 1307.58,903.33 1304.88,911.67 1303.00,920.00 C 1301.12,928.33 1300.17,938.33 1299.25,945.00 C 1298.33,951.67 1297.92,937.67 1297.50,960.00 C 1297.08,982.33 1296.83,1059.17 1296.70,1079.00 L 1294.30,1079.00 C 1294.17,1059.17 1293.92,982.33 1293.50,960.00 C 1293.08,937.67 1292.67,951.67 1291.75,945.00 C 1290.83,938.33 1289.88,928.33 1288.00,920.00 C 1286.12,911.67 1283.42,903.33 1280.50,895.00 C 1277.58,886.67 1274.33,878.33 1270.50,870.00 C 1266.67,861.67 1262.33,853.33 1257.50,845.00 C 1252.67,836.67 1244.50,826.25 1241.50,820.00 C 1238.50,813.75 1239.17,811.67 1239.50,807.50 C 1239.83,803.33 1239.79,801.25 1243.50,795.00 C 1247.21,788.75 1255.58,777.67 1261.75,770.00 C 1267.92,762.33 1277.38,752.50 1280.50,749.00 Z" fill="#109bb4" stroke="#000" stroke-width="1.2" stroke-linejoin="round"/>
<line x1="1246.23" y1="794.00" x2="1344.77" y2="794.00" stroke="#000" stroke-width="2" stroke-dasharray="2,2" opacity="0.5"/>
<line x1="1243.18" y1="818.00" x2="1347.82" y2="818.00" stroke="#000" stroke-width="2.5" stroke-dasharray="5,3" opacity="0.85"/>
<line x1="1265.22" y1="856.00" x2="1325.78" y2="856.00" stroke="#000" stroke-width="2" stroke-dasharray="2,2" opacity="0.6"/>
<rect x="1291.75" y="745.00" width="7.5" height="158.00" fill="#000" rx="3.75"/>
<path d="M 1292.00,914.98 L 1299.00,914.98 L 1295.50,909.02 Z" fill="#000"/>
<path d="M 1292.00,922.98 L 1299.00,922.98 L 1295.50,917.02 Z" fill="#000"/>
<path d="M 1292.00,972.98 L 1299.00,972.98 L 1295.50,967.02 Z" fill="#000"/>
<path d="M 1292.00,977.98 L 1299.00,977.98 L 1295.50,972.02 Z" fill="#000"/>
<path d="M 1292.00,1080.97 L 1299.00,1080.97 L 1295.50,1075.03 Z" fill="#000"/>
<text x="956.00" y="1155.00" font-family='"Liberation Serif", serif' font-size="28" font-weight="normal" font-style="normal" text-anchor="middle" fill="#000"  stroke="#000" stroke-width="0.5">Baseline</text>
<text x="1125.50" y="1155.00" font-family='"Liberation Serif", serif' font-size="28" font-weight="normal" font-style="normal" text-anchor="middle" fill="#000"  stroke="#000" stroke-width="0.5">24±2w</text>
<text x="1294.00" y="1155.00" font-family='"Liberation Serif", serif' font-size="28" font-weight="normal" font-style="normal" text-anchor="middle" fill="#000"  stroke="#000" stroke-width="0.5">48±2w</text>
<text x="1128.50" y="1206.00" font-family='"Liberation Serif", serif' font-size="31" font-weight="normal" font-style="normal" text-anchor="middle" fill="#000"  stroke="#000" stroke-width="0.5">Time</text>
<text x="0" y="0" transform="translate(790.50,1009.50) rotate(-90)" font-family='"Liberation Serif", serif' font-size="28.5" font-weight="normal" text-anchor="start" fill="#222" textLength="199" lengthAdjust="spacingAndGlyphs">HBsAg（logIU/ml)</text>
<line x1="949.00" y1="672.50" x2="1293.00" y2="672.50" stroke="#000" stroke-width="2" />
<line x1="1120.00" y1="657.80" x2="1120.00" y2="642.20" stroke="#000" stroke-width="3.2" stroke-linecap="round"/>
<line x1="1113.25" y1="653.90" x2="1126.75" y2="646.10" stroke="#000" stroke-width="3.2" stroke-linecap="round"/>
<line x1="1126.75" y1="653.90" x2="1113.25" y2="646.10" stroke="#000" stroke-width="3.2" stroke-linecap="round"/>
<line x1="963.00" y1="716.00" x2="1123.00" y2="716.00" stroke="#777" stroke-width="2" />
<line x1="1039.00" y1="701.80" x2="1039.00" y2="686.20" stroke="#000" stroke-width="3.2" stroke-linecap="round"/>
<line x1="1032.25" y1="697.90" x2="1045.75" y2="690.10" stroke="#000" stroke-width="3.2" stroke-linecap="round"/>
<line x1="1045.75" y1="697.90" x2="1032.25" y2="690.10" stroke="#000" stroke-width="3.2" stroke-linecap="round"/>
<line x1="1132.50" y1="728.00" x2="1297.00" y2="728.00" stroke="#666" stroke-width="3" />
<text x="1214.00" y="711.00" font-family='"Liberation Sans", sans-serif' font-size="30" font-weight="normal" font-style="normal" text-anchor="middle" fill="#000" >ns</text>
<text x="0" y="0" transform="translate(5.00,1279.50) scale(1,1.04)" font-family='"Liberation Sans", sans-serif' font-size="44" font-weight="normal" font-style="normal" text-anchor="start" fill="#000" >e</text>
<line x1="117.00" y1="1334.00" x2="117.00" y2="1719.50" stroke="#000" stroke-width="3" />
<line x1="104.00" y1="1718.00" x2="117.00" y2="1718.00" stroke="#000" stroke-width="3" />
<text x="0" y="0" transform="translate(97.00,1728.44) scale(1,1.1)" font-family='"Liberation Sans", sans-serif' font-size="26.5" font-weight="bold" font-style="normal" text-anchor="end" fill="#000" >0</text>
<line x1="104.00" y1="1621.88" x2="117.00" y2="1621.88" stroke="#000" stroke-width="3" />
<text x="0" y="0" transform="translate(97.00,1632.32) scale(1,1.1)" font-family='"Liberation Sans", sans-serif' font-size="26.5" font-weight="bold" font-style="normal" text-anchor="end" fill="#000" >100</text>
<line x1="104.00" y1="1525.76" x2="117.00" y2="1525.76" stroke="#000" stroke-width="3" />
<text x="0" y="0" transform="translate(97.00,1536.20) scale(1,1.1)" font-family='"Liberation Sans", sans-serif' font-size="26.5" font-weight="bold" font-style="normal" text-anchor="end" fill="#000" >200</text>
<line x1="104.00" y1="1429.64" x2="117.00" y2="1429.64" stroke="#000" stroke-width="3" />
<text x="0" y="0" transform="translate(97.00,1440.08) scale(1,1.1)" font-family='"Liberation Sans", sans-serif' font-size="26.5" font-weight="bold" font-style="normal" text-anchor="end" fill="#000" >300</text>
<line x1="104.00" y1="1333.52" x2="117.00" y2="1333.52" stroke="#000" stroke-width="3" />
<text x="0" y="0" transform="translate(97.00,1343.96) scale(1,1.1)" font-family='"Liberation Sans", sans-serif' font-size="26.5" font-weight="bold" font-style="normal" text-anchor="end" fill="#000" >400</text>
<line x1="104.00" y1="1718.00" x2="658.80" y2="1718.00" stroke="#000" stroke-width="3" />
<line x1="226.00" y1="1718.00" x2="226.00" y2="1733.00" stroke="#000" stroke-width="3" />
<line x1="387.00" y1="1718.00" x2="387.00" y2="1733.00" stroke="#000" stroke-width="3" />
<line x1="549.50" y1="1718.00" x2="549.50" y2="1733.00" stroke="#000" stroke-width="3" />
<line x1="225.50" y1="1381.00" x2="225.50" y2="1649.00" stroke="#000" stroke-width="2" />
<line x1="225.50" y1="1698.50" x2="225.50" y2="1714.50" stroke="#000" stroke-width="2" />
<line x1="199.50" y1="1381.00" x2="251.50" y2="1381.00" stroke="#000" stroke-width="2.5" />
<line x1="199.50" y1="1714.50" x2="251.50" y2="1714.50" stroke="#000" stroke-width="3" />
<rect x="171.40" y="1649.00" width="106.60" height="49.50" fill="none" stroke="#000" stroke-width="2"/>
<line x1="171.40" y1="1684.30" x2="278.00" y2="1684.30" stroke="#333" stroke-width="3.5" />
<line x1="387.00" y1="1531.50" x2="387.00" y2="1677.00" stroke="#000" stroke-width="2.4" />
<line x1="387.00" y1="1699.20" x2="387.00" y2="1716.00" stroke="#000" stroke-width="2.4" />
<line x1="360.50" y1="1531.50" x2="413.50" y2="1531.50" stroke="#000" stroke-width="2.9" />
<line x1="360.50" y1="1716.00" x2="413.50" y2="1716.00" stroke="#000" stroke-width="3.4" />
<rect x="334.00" y="1677.00" width="106.50" height="22.20" fill="none" stroke="#000" stroke-width="2.4"/>
<line x1="334.00" y1="1694.00" x2="440.50" y2="1694.00" stroke="#000" stroke-width="3" />
<line x1="550.00" y1="1528.00" x2="550.00" y2="1679.00" stroke="#000" stroke-width="2" />
<line x1="550.00" y1="1702.00" x2="550.00" y2="1716.00" stroke="#000" stroke-width="2" />
<line x1="523.50" y1="1528.00" x2="576.50" y2="1528.00" stroke="#000" stroke-width="2.5" />
<line x1="523.50" y1="1716.00" x2="576.50" y2="1716.00" stroke="#000" stroke-width="3" />
<rect x="496.00" y="1679.00" width="106.50" height="23.00" fill="none" stroke="#000" stroke-width="2"/>
<line x1="496.00" y1="1696.00" x2="602.50" y2="1696.00" stroke="#999" stroke-width="2" />
<line x1="522.5" y1="1528" x2="575" y2="1528" stroke="#fff" stroke-width="0"/>
<text x="225.00" y="1764.00" font-family='"Liberation Serif", serif' font-size="28" font-weight="normal" font-style="normal" text-anchor="middle" fill="#000"  stroke="#000" stroke-width="0.5">Baseline</text>
<text x="386.00" y="1764.00" font-family='"Liberation Serif", serif' font-size="28" font-weight="normal" font-style="normal" text-anchor="middle" fill="#000"  stroke="#000" stroke-width="0.5">24±2w</text>
<text x="550.00" y="1764.00" font-family='"Liberation Serif", serif' font-size="28" font-weight="normal" font-style="normal" text-anchor="middle" fill="#000"  stroke="#000" stroke-width="0.5">48+2w</text>
<text x="390.00" y="1823.00" font-family='"Liberation Serif", serif' font-size="31" font-weight="normal" font-style="normal" text-anchor="middle" fill="#000"  stroke="#000" stroke-width="0.5">Time</text>
<text x="0" y="0" transform="translate(35.00,1584.00) rotate(-90)" font-family='"Liberation Serif", serif' font-size="29" font-weight="normal" text-anchor="start" fill="#000" textLength="122" lengthAdjust="spacingAndGlyphs">ALT(U/L)</text>
<line x1="232.50" y1="1313.00" x2="552.50" y2="1313.00" stroke="#000" stroke-width="2" />
<line x1="392.00" y1="1295.30" x2="392.00" y2="1279.70" stroke="#000" stroke-width="3.2" stroke-linecap="round"/>
<line x1="385.25" y1="1291.40" x2="398.75" y2="1283.60" stroke="#000" stroke-width="3.2" stroke-linecap="round"/>
<line x1="398.75" y1="1291.40" x2="385.25" y2="1283.60" stroke="#000" stroke-width="3.2" stroke-linecap="round"/>
<line x1="226.00" y1="1366.00" x2="387.50" y2="1366.00" stroke="#000" stroke-width="3" />
<line x1="307.50" y1="1347.80" x2="307.50" y2="1332.20" stroke="#000" stroke-width="3.2" stroke-linecap="round"/>
<line x1="300.75" y1="1343.90" x2="314.25" y2="1336.10" stroke="#000" stroke-width="3.2" stroke-linecap="round"/>
<line x1="314.25" y1="1343.90" x2="300.75" y2="1336.10" stroke="#000" stroke-width="3.2" stroke-linecap="round"/>
<line x1="408.00" y1="1470.50" x2="546.00" y2="1470.50" stroke="#000" stroke-width="3" />
<text x="0" y="0" transform="translate(477.00,1451.30) scale(0.93,1)" font-family='"Liberation Sans", sans-serif' font-size="30" font-weight="bold" font-style="normal" text-anchor="middle" fill="#000" >ns</text>
<text x="769.50" y="1279.00" font-family='"Liberation Sans", sans-serif' font-size="42" font-weight="normal" font-style="normal" text-anchor="start" fill="#000" >f</text>
<line x1="866.00" y1="1295.50" x2="866.00" y2="1705.50" stroke="#000" stroke-width="3" />
<line x1="849.00" y1="1704.00" x2="866.00" y2="1704.00" stroke="#000" stroke-width="3" />
<text x="0" y="0" transform="translate(845.00,1715.42) scale(1,1.16)" font-family='"Liberation Sans", sans-serif' font-size="27.5" font-weight="bold" font-style="normal" text-anchor="end" fill="#000" >0.0</text>
<line x1="849.00" y1="1568.00" x2="866.00" y2="1568.00" stroke="#000" stroke-width="3" />
<text x="0" y="0" transform="translate(845.00,1579.42) scale(1,1.16)" font-family='"Liberation Sans", sans-serif' font-size="27.5" font-weight="bold" font-style="normal" text-anchor="end" fill="#000" >0.5</text>
<line x1="849.00" y1="1432.00" x2="866.00" y2="1432.00" stroke="#000" stroke-width="3" />
<text x="0" y="0" transform="translate(845.00,1443.42) scale(1,1.16)" font-family='"Liberation Sans", sans-serif' font-size="27.5" font-weight="bold" font-style="normal" text-anchor="end" fill="#000" >1.0</text>
<line x1="849.00" y1="1296.00" x2="866.00" y2="1296.00" stroke="#000" stroke-width="3" />
<text x="0" y="0" transform="translate(845.00,1307.42) scale(1,1.16)" font-family='"Liberation Sans", sans-serif' font-size="27.5" font-weight="bold" font-style="normal" text-anchor="end" fill="#000" >1.5</text>
<line x1="851.00" y1="1704.00" x2="1412.00" y2="1704.00" stroke="#000" stroke-width="3" />
<line x1="1021.00" y1="1704.00" x2="1021.00" y2="1719.00" stroke="#000" stroke-width="3" />
<line x1="1254.50" y1="1704.00" x2="1254.50" y2="1719.00" stroke="#000" stroke-width="3" />
<path d="M 1024.5,1397.5 L 1024.5,1371 L 1255,1371 L 1255,1486" fill="none" stroke="#000" stroke-width="3.5"/>
<text x="0" y="0" transform="translate(1137.50,1357.00) scale(1,1.15)" font-family='"Liberation Serif", serif' font-size="27" font-weight="bold" font-style="italic" text-anchor="middle" fill="#000" >P&lt;0.05</text>
<line x1="1021.00" y1="1439.00" x2="1021.00" y2="1623.50" stroke="#000" stroke-width="3" />
<line x1="1014.00" y1="1439.00" x2="1029.00" y2="1439.00" stroke="#000" stroke-width="3" />
<line x1="1014.00" y1="1623.50" x2="1029.00" y2="1623.50" stroke="#000" stroke-width="3" />
<line x1="1254.50" y1="1560.50" x2="1254.50" y2="1634.50" stroke="#000" stroke-width="3" />
<line x1="1247.50" y1="1560.50" x2="1261.50" y2="1560.50" stroke="#000" stroke-width="3" />
<line x1="1247.50" y1="1634.50" x2="1261.50" y2="1634.50" stroke="#000" stroke-width="3" />
<line x1="1021.00" y1="1566.00" x2="1254.50" y2="1604.00" stroke="#000" stroke-width="3" />
<circle cx="1021" cy="1566" r="7.5" fill="#000"/>
<rect x="1247.5" y="1597" width="14" height="14.5" fill="#000"/>
<text x="1020.50" y="1753.00" font-family='"Liberation Serif", serif' font-size="28" font-weight="normal" font-style="normal" text-anchor="middle" fill="#000"  stroke="#000" stroke-width="0.5">Baseline</text>
<text x="1253.70" y="1753.70" font-family='"Liberation Serif", serif' font-size="28" font-weight="normal" font-style="normal" text-anchor="middle" fill="#000"  stroke="#000" stroke-width="0.5">48±2w</text>
<text x="1140.00" y="1816.50" font-family='"Liberation Serif", serif' font-size="31" font-weight="normal" font-style="normal" text-anchor="middle" fill="#000"  stroke="#000" stroke-width="0.5">Time</text>
<text x="0" y="0" transform="translate(789.00,1571.00) rotate(-90)" font-family='"Liberation Sans", sans-serif' font-size="26.5" font-weight="normal" text-anchor="start" fill="#111" textLength="146" lengthAdjust="spacingAndGlyphs">APRI Score</text>
</svg>
</body></html>
